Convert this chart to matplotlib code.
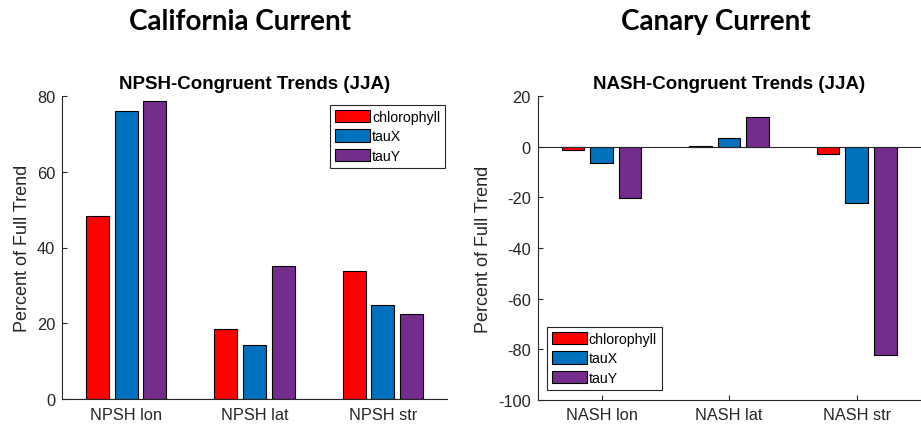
import numpy as np
import matplotlib
matplotlib.use("Agg")
import matplotlib.pyplot as plt

# values (percent of full trend)
npsh_labels = ["NPSH lon", "NPSH lat", "NPSH str"]
npsh_chl = [48.2, 18.5, 33.8]
npsh_taux = [76.0, 14.3, 24.9]
npsh_tauy = [78.8, 35.0, 22.5]

nash_labels = ["NASH lon", "NASH lat", "NASH str"]
nash_chl = [-1.3, 0.3, -2.8]
nash_taux = [-6.2, 3.4, -22.1]
nash_tauy = [-20.3, 11.7, -82.5]

series_names = ["chlorophyll", "tauX", "tauY"]
colors = ["#FF0000", "#0072BD", "#742D8A"]

plt.rcParams["font.family"] = ["Liberation Sans", "DejaVu Sans"]
plt.rcParams["axes.unicode_minus"] = False
axcol = "#262626"

fig = plt.figure(figsize=(9.21, 4.27), dpi=100)
ax1 = fig.add_axes([62 / 921, 1 - 400 / 427, 385 / 921, 303 / 427])
ax2 = fig.add_axes([537.7 / 921, 1 - 400.7 / 427, 382.8 / 921, 303.4 / 427])

x = np.arange(1, 4)
offsets = [-0.224, 0.0, 0.224]
width = 0.178


def draw(ax, labels, data, title, ylim, yticks):
    for off, vals, name, c in zip(offsets, data, series_names, colors):
        ax.bar(x + off, vals, width, color=c, edgecolor="black",
               linewidth=0.8, label=name, zorder=2)
    ax.axhline(0, color=axcol, linewidth=0.8, zorder=3)
    ax.set_xlim(0.5, 3.5)
    ax.set_ylim(*ylim)
    ax.set_yticks(yticks)
    ax.set_xticks(x)
    ax.set_xticklabels(labels)
    for s in ["top", "right"]:
        ax.spines[s].set_visible(False)
    for s in ["left", "bottom"]:
        ax.spines[s].set_color(axcol)
        ax.spines[s].set_linewidth(0.8)
    ax.tick_params(direction="in", length=3.5, width=0.8, colors=axcol,
                   labelsize=11.8, pad=5.5)
    ax.tick_params(axis="y", pad=5)
    ax.set_ylabel("Percent of Full Trend", fontsize=13, color=axcol,
                  labelpad=4)
    ax.set_title(title, fontsize=13.5, fontweight="bold", pad=6)


draw(ax1, npsh_labels, [npsh_chl, npsh_taux, npsh_tauy],
     "NPSH-Congruent Trends (JJA)", (0, 80), np.arange(0, 81, 20))
draw(ax2, nash_labels, [nash_chl, nash_taux, nash_tauy],
     "NASH-Congruent Trends (JJA)", (-100, 20), np.arange(-100, 21, 20))

leg_kw = dict(fontsize=10.2, handlelength=2.45, handleheight=0.95,
              handletextpad=0.15, labelspacing=0.38, borderpad=0.35,
              borderaxespad=0, fancybox=False, framealpha=1,
              edgecolor=axcol)
l1 = ax1.legend(loc="upper right", bbox_to_anchor=(0.995, 0.97), **leg_kw)
l2 = ax2.legend(loc="lower left", bbox_to_anchor=(0.024, 0.033), **leg_kw)
for lg in (l1, l2):
    lg.get_frame().set_linewidth(0.8)

fig.text(240 / 921, 1 - 22 / 427, "California Current", ha="center",
         va="center", fontsize=20, fontweight="bold", family="Lato")
fig.text(716 / 921, 1 - 22 / 427, "Canary Current", ha="center",
         va="center", fontsize=20, fontweight="bold", family="Lato")

fig.savefig("out.png", dpi=100)
